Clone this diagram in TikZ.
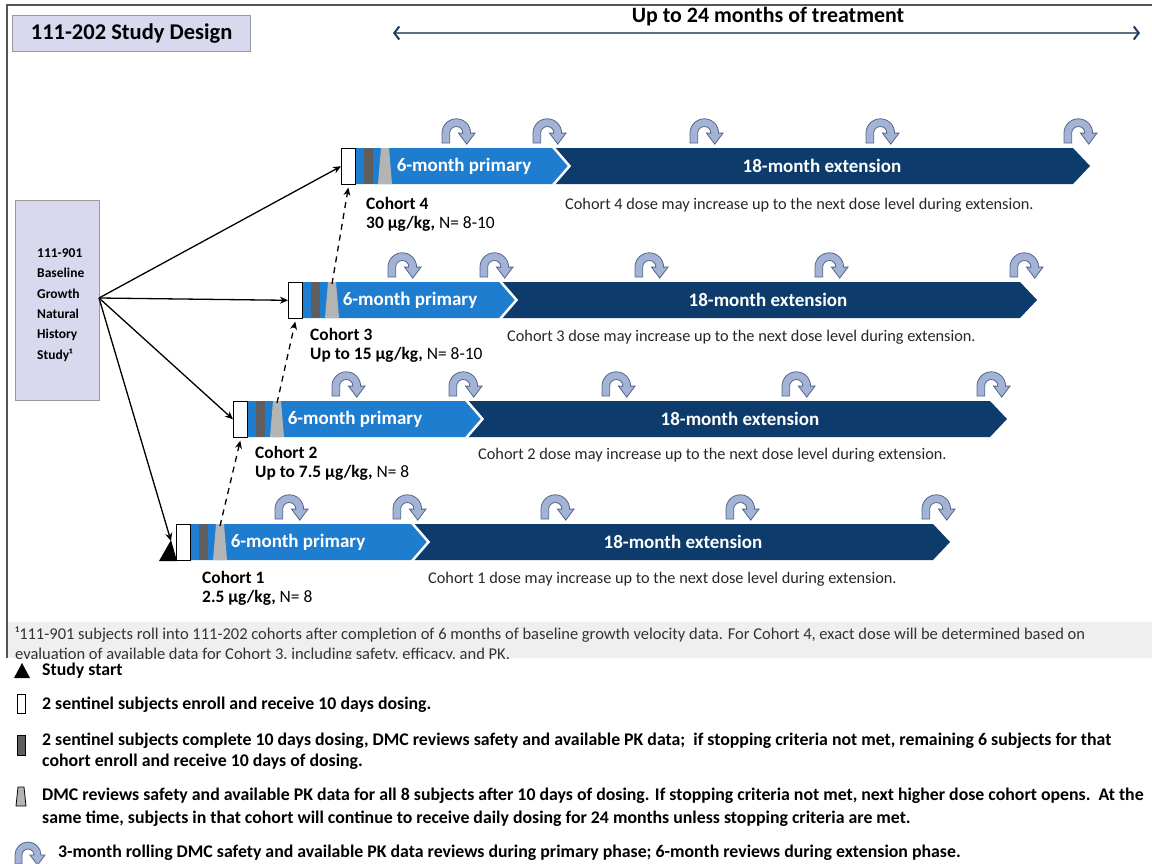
\documentclass[tikz,border=0pt]{standalone}
\usepackage{fontspec}
\setmainfont{Carlito}
\usetikzlibrary{arrows.meta,calc}
\definecolor{prim}{HTML}{1E7DCF}
\definecolor{extc}{HTML}{0D3B6B}
\definecolor{lav}{HTML}{D8D8EE}
\definecolor{darkbar}{HTML}{5E5E5E}
\definecolor{lightbar}{HTML}{B4B4B4}
\definecolor{iconfill}{HTML}{A3B3D6}
\definecolor{iconline}{HTML}{56668A}
\definecolor{framec}{HTML}{555555}
\definecolor{footbg}{HTML}{EFEFEF}
\definecolor{toparrow}{HTML}{5B7088}
\definecolor{topheads}{HTML}{1B3A66}
\tikzset{
  uturn/.pic={\path[fill=iconfill, draw=iconline, line width=0.8, yscale=-1]
     (0,0) -- (0,9) arc[start angle=180,end angle=0,radius=13] -- (30,9) -- (22.5,-1) -- (15,9) -- (19,9)
     arc[start angle=0,end angle=180,radius=6] -- (7,0) -- cycle;},
  bartext/.style={font=\bfseries\fontsize{19}{22}\selectfont, text=white, inner sep=0},
  cohlabel/.style={font=\fontsize{17.4}{20}\selectfont, anchor=west, inner sep=0},
  cohname/.style={font=\bfseries\fontsize{17.4}{20}\selectfont, anchor=west, inner sep=0},
  desc/.style={font=\fontsize{16.3}{19}\selectfont, anchor=west, inner sep=0, text=black!85},
  foot/.style={font=\fontsize{16.5}{19}\selectfont, anchor=west, inner sep=0, text=black!80},
  legtext/.style={font=\bfseries\fontsize{17.8}{20}\selectfont, anchor=west, inner sep=0},
  feed/.style={-{Stealth[length=8pt,width=7pt]}, line width=1.3},
  seq/.style={-{Stealth[length=8pt,width=7pt]}, line width=1.3, dash pattern=on 6pt off 5pt},
}
% #1 id, #2 x0, #3 ytop, #4 primary shoulder, #5 ext shoulder, #6 primary text centre, #7 ext text centre
\newcommand\cohortbar[7]{%
  \fill[extc] (#4,#3) -- (#5,#3) -- ({#5+17},{#3+18}) -- (#5,{#3+36}) -- (#4,{#3+36}) -- cycle;
  \fill[prim] ({#2+14},#3) -- (#4,#3) -- ({#4+16},{#3+18}) -- (#4,{#3+36}) -- ({#2+14},{#3+36}) -- cycle;
  \draw[white, line width=2.5] ({#4+1},{#3-1}) -- ({#4+17.5},{#3+18}) -- ({#4+1},{#3+37});
  \node[draw=black, fill=white, line width=0.6, minimum width=14, minimum height=36, inner sep=0, anchor=north west] (w#1) at (#2,#3) {};
  \fill[darkbar] ({#2+23},#3) rectangle ({#2+32},{#3+36});
  \fill[lightbar] ({#2+40},#3) -- ({#2+48},#3) -- ({#2+51},{#3+36}) -- ({#2+37},{#3+36}) -- cycle;
  \coordinate (t#1) at ({#2+44},{#3+2});
  \node[bartext] (p#1) at (#6,{#3+18}) {6-month primary};
  \node[bartext] (e#1) at (#7,{#3+18}) {18-month extension};
}
\begin{document}
\begin{tikzpicture}[x=1pt,y=-1pt]
\useasboundingbox (0,0) rectangle (1152,863);
% frame and footnote band
\fill[footbg] (8,622) rectangle (1152,658);
\draw[framec, line width=2.5] (7,658) -- (7,5) -- (1152,5);
\begin{scope}
  \clip (8,622) rectangle (1152,658);
  \node[foot] (fn1) at (15,635) {¹111-901 subjects roll into 111-202 cohorts after completion of 6 months of baseline growth velocity data. For Cohort 4, exact dose will be determined based on};
  \node[foot] (fn2) at (15,657) {\smash{\raisebox{-2pt}{evaluation of available data for Cohort 3, including safety, efficacy, and PK.}}};
\end{scope}
% title
\node[draw=gray!80, line width=1.2, fill=lav, minimum width=238, minimum height=36, anchor=north west, inner sep=0] (title) at (12,15) {};
\node[font=\bfseries\fontsize{22.5}{26}\selectfont, inner sep=0] (titletext) at (title.center) {111-202 Study Design};
% top arrow
\coordinate (tl) at (393,33);
\coordinate (tr) at (1140,33);
\draw[toparrow, line width=1.5, {Straight Barb[length=5pt,width=13pt,line width=2pt,color=topheads]}-{Straight Barb[length=5pt,width=13pt,line width=2pt,color=topheads]}] (tl) -- (tr);
\node[font=\bfseries\fontsize{21.9}{24}\selectfont, inner sep=0] (toplabel) at (768,17) {Up to 24 months of treatment};
% left box
\node[draw=gray!80, line width=1.2, fill=lav, minimum width=84, minimum height=200, anchor=north west, inner sep=0] (base) at (15,200) {};
\node[font=\bfseries\fontsize{13.5}{20.3}\selectfont, align=left, anchor=west, inner sep=0] (basetext) at (37,305) {111-901\\Baseline\\Growth\\Natural\\History\\Study¹};
% cohort bars
\cohortbar{4}{341}{148}{552}{1073}{464}{822}
\cohortbar{3}{288}{282}{499}{1020}{410}{768}
\cohortbar{2}{233}{401}{465}{990}{355}{740}
\cohortbar{1}{176}{524}{411}{933}{298}{683}
% study start triangle
\fill[black] (159,561) -- (171,540) -- (177,561) -- cycle;
\coordinate (start) at (171,541);
% icons
\foreach \x in {442,533,690,866,1064} \pic[scale=1.1] at (\x,143) {uturn};
\foreach \x in {388,480,635,815,1010} \pic[scale=1.1] at (\x,277) {uturn};
\foreach \x in {332,449,602,782,977} \pic[scale=1.1] at (\x,396) {uturn};
\foreach \x in {275,393,541,726,922} \pic[scale=1.1] at (\x,519) {uturn};
% labels
\node[cohname] (l4a) at (366,203) {Cohort 4};
\node[cohlabel] (l4b) at (366,224) {\textbf{30 µg/kg,} N= 8-10};
\node[desc] (d4) at (565,205) {Cohort 4 dose may increase up to the next dose level during extension.};
\node[cohname] (l3a) at (310,334) {Cohort 3};
\node[cohlabel] (l3b) at (310,355) {\textbf{Up to 15 µg/kg,} N= 8-10};
\node[desc] (d3) at (507,337) {Cohort 3 dose may increase up to the next dose level during extension.};
\node[cohname] (l2a) at (255,452) {Cohort 2};
\node[cohlabel] (l2b) at (255,473) {\textbf{Up to 7.5 µg/kg,} N= 8};
\node[desc] (d2) at (478,455) {Cohort 2 dose may increase up to the next dose level during extension.};
\node[cohname] (l1a) at (202,577) {Cohort 1};
\node[cohlabel] (l1b) at (202,598) {\textbf{2.5 µg/kg,} N= 8};
\node[desc] (d1) at (428,579) {Cohort 1 dose may increase up to the next dose level during extension.};
% connectors
\coordinate (bout) at (99,298);
\draw[feed] (bout) -- (w4.west);
\draw[feed] (bout) -- (w3.west);
\draw[feed] (bout) -- (w2.west);
\draw[feed] (bout) -- (start);
\draw[seq] (t1) -- ($(w2.south)+(0,3)$);
\draw[seq] (t2) -- ($(w3.south)+(0,3)$);
\draw[seq] (t3) -- ($(w4.south)+(0,3)$);
% legend
\fill[black] (14,678) -- (22,663) -- (30,678) -- cycle;
\node[legtext] (lg1) at (42,671) {Study start};
\draw[black, line width=0.8, fill=white] (17,694) rectangle (25,713);
\node[legtext] (lg2) at (42,705) {2 sentinel subjects enroll and receive 10 days dosing.};
\draw[black, line width=0.8, fill=darkbar] (17,735) rectangle (25,755);
\node[legtext] (lg3a) at (42,741) {2 sentinel subjects complete 10 days dosing, DMC reviews safety and available PK data;\ \ if stopping criteria not met, remaining 6 subjects for that};
\node[legtext] (lg3b) at (42,762) {cohort enroll and receive 10 days of dosing.};
\draw[black, line width=0.8, fill=lightbar] (18,787) -- (24,787) -- (26,806) -- (16,806) -- cycle;
\node[legtext] (lg4a) at (42,796) {DMC reviews safety and available PK data for all 8 subjects after 10 days of dosing. If stopping criteria not met, next higher dose cohort opens.\ \ At the};
\node[legtext] (lg4b) at (42,819) {same time, subjects in that cohort will continue to receive daily dosing for 24 months unless stopping criteria are met.};
\pic at (15,864) {uturn};
\node[legtext] (lg5) at (58,853) {3-month rolling DMC safety and available PK data reviews during primary phase; 6-month reviews during extension phase.};
\end{tikzpicture}
\end{document}
